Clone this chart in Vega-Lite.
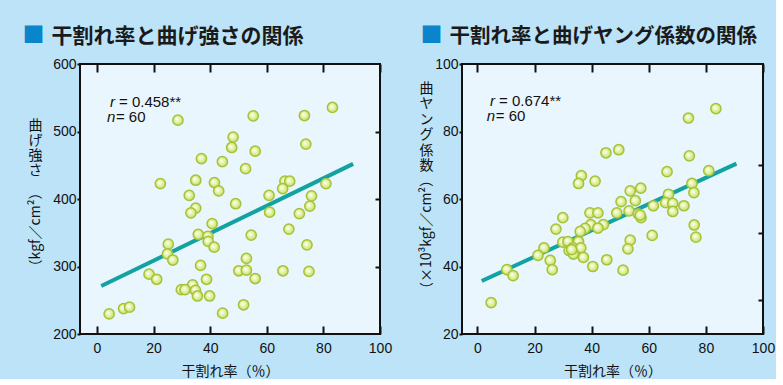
{
  "$schema": "https://vega.github.io/schema/vega-lite/v6.json",
  "background": "#bce3f8",
  "padding": {"left": 21, "top": 22, "right": 0, "bottom": 0},
  "spacing": 25,
  "config": {
    "view": {"fill": "#eaf6fd", "stroke": "#111111", "strokeWidth": 2},
    "axis": {
      "labelFont": "Liberation Sans", "labelFontSize": 14, "labelColor": "#111111", "labelFlush": false,
      "titleFont": "Noto Sans CJK JP", "titleFontWeight": "normal", "titleFontSize": 14, "titleColor": "#111111", "titleLimit": 1000,
      "domain": false, "grid": false, "tickColor": "#111111", "tickWidth": 2
    }
  },
  "datasets": {
    "strength": [
      {"rate": 28.6, "value": 516.8}, {"rate": 55.2, "value": 523.2}, {"rate": 73.3, "value": 523.7}, {"rate": 83.2, "value": 535.6},
      {"rate": 48.1, "value": 491.8}, {"rate": 47.6, "value": 476.3}, {"rate": 55.9, "value": 470.8}, {"rate": 73.8, "value": 481.3},
      {"rate": 36.9, "value": 459.9}, {"rate": 44.3, "value": 455.4}, {"rate": 52.5, "value": 444.9}, {"rate": 22.4, "value": 422.9},
      {"rate": 34.9, "value": 427.8}, {"rate": 41.5, "value": 424.4}, {"rate": 43.0, "value": 412.0}, {"rate": 32.6, "value": 405.4},
      {"rate": 66.4, "value": 426.4}, {"rate": 68.1, "value": 426.4}, {"rate": 65.6, "value": 415.4}, {"rate": 80.9, "value": 422.9},
      {"rate": 60.8, "value": 405.4}, {"rate": 75.8, "value": 404.5}, {"rate": 34.9, "value": 386.5}, {"rate": 33.2, "value": 379.5},
      {"rate": 49.0, "value": 393.0}, {"rate": 75.2, "value": 389.5}, {"rate": 61.0, "value": 380.5}, {"rate": 71.5, "value": 378.4},
      {"rate": 40.7, "value": 363.5}, {"rate": 67.8, "value": 355.5}, {"rate": 35.8, "value": 347.6}, {"rate": 39.2, "value": 344.6},
      {"rate": 39.3, "value": 337.1}, {"rate": 41.4, "value": 328.6}, {"rate": 54.5, "value": 346.6}, {"rate": 25.2, "value": 333.1},
      {"rate": 24.9, "value": 318.6}, {"rate": 26.8, "value": 309.6}, {"rate": 74.2, "value": 332.0}, {"rate": 36.6, "value": 301.6},
      {"rate": 52.8, "value": 312.1}, {"rate": 50.1, "value": 293.7}, {"rate": 52.8, "value": 294.6}, {"rate": 65.7, "value": 293.7},
      {"rate": 74.9, "value": 292.7}, {"rate": 18.4, "value": 288.6}, {"rate": 21.1, "value": 281.1}, {"rate": 38.7, "value": 281.1},
      {"rate": 55.9, "value": 282.2}, {"rate": 33.8, "value": 272.8}, {"rate": 29.8, "value": 265.7}, {"rate": 31.1, "value": 265.7},
      {"rate": 34.8, "value": 264.7}, {"rate": 35.5, "value": 256.3}, {"rate": 39.8, "value": 256.3}, {"rate": 51.8, "value": 243.3},
      {"rate": 4.3, "value": 229.8}, {"rate": 9.4, "value": 237.7}, {"rate": 11.5, "value": 239.8}, {"rate": 44.4, "value": 230.8}
    ],
    "modulus": [
      {"rate": 83.5, "value": 86.8}, {"rate": 73.9, "value": 84.0}, {"rate": 45.0, "value": 73.7}, {"rate": 49.5, "value": 74.6},
      {"rate": 74.2, "value": 72.8}, {"rate": 36.4, "value": 66.9}, {"rate": 35.4, "value": 64.6}, {"rate": 41.2, "value": 65.3},
      {"rate": 66.4, "value": 68.1}, {"rate": 81.0, "value": 68.4}, {"rate": 75.1, "value": 64.6}, {"rate": 75.8, "value": 61.9},
      {"rate": 53.5, "value": 62.4}, {"rate": 57.2, "value": 63.2}, {"rate": 66.9, "value": 61.4}, {"rate": 50.3, "value": 59.2},
      {"rate": 55.3, "value": 59.5}, {"rate": 65.9, "value": 58.9}, {"rate": 68.4, "value": 58.7}, {"rate": 61.6, "value": 58.0},
      {"rate": 72.3, "value": 58.0}, {"rate": 53.1, "value": 56.5}, {"rate": 68.4, "value": 56.3}, {"rate": 48.8, "value": 55.9},
      {"rate": 56.3, "value": 55.6}, {"rate": 57.3, "value": 54.5}, {"rate": 39.4, "value": 55.9}, {"rate": 42.2, "value": 55.9},
      {"rate": 29.9, "value": 54.5}, {"rate": 75.9, "value": 52.3}, {"rate": 39.7, "value": 52.4}, {"rate": 44.1, "value": 52.4},
      {"rate": 42.2, "value": 51.4}, {"rate": 37.7, "value": 51.3}, {"rate": 36.0, "value": 50.4}, {"rate": 27.5, "value": 51.1},
      {"rate": 76.5, "value": 48.7}, {"rate": 61.2, "value": 49.2}, {"rate": 53.5, "value": 47.8}, {"rate": 29.9, "value": 47.2},
      {"rate": 31.7, "value": 47.4}, {"rate": 35.4, "value": 47.4}, {"rate": 23.3, "value": 45.5}, {"rate": 32.1, "value": 44.7},
      {"rate": 33.4, "value": 45.5}, {"rate": 36.2, "value": 45.5}, {"rate": 33.6, "value": 43.7}, {"rate": 21.2, "value": 43.3},
      {"rate": 37.1, "value": 42.7}, {"rate": 52.7, "value": 45.2}, {"rate": 25.5, "value": 41.8}, {"rate": 45.3, "value": 42.0},
      {"rate": 40.4, "value": 40.0}, {"rate": 26.2, "value": 39.1}, {"rate": 51.0, "value": 38.9}, {"rate": 10.3, "value": 39.1},
      {"rate": 12.5, "value": 37.3}, {"rate": 4.8, "value": 29.3}, {"rate": 33.0, "value": 45.0}, {"rate": 57.0, "value": 55.2}
    ],
    "lineA": [{"rate": 1.5, "value": 271}, {"rate": 90.5, "value": 452}],
    "lineB": [{"rate": 1.5, "value": 35.7}, {"rate": 90.7, "value": 70.5}],
    "annoA": [{"rate": 4.6, "value": 537, "sym": "r", "rest": "= 0.458**"}, {"rate": 3.5, "value": 514.5, "sym": "n", "rest": "= 60"}],
    "annoB": [{"rate": 4.4, "value": 87.6, "sym": "r", "rest": "= 0.674**"}, {"rate": 3.3, "value": 83.2, "sym": "n", "rest": "= 60"}]
  },
  "hconcat": [
    {
      "width": 300, "height": 270,
      "resolve": {"axis": {"x": "independent", "y": "independent"}},
      "layer": [
        {
          "data": {"name": "lineA"},
          "mark": {"type": "line", "color": "#12a2a2", "strokeWidth": 4},
          "encoding": {
            "x": {"field": "rate", "type": "quantitative", "scale": {"domain": [-6, 100], "nice": false, "zero": false},
                  "axis": {"orient": "top", "values": [0, 20, 40, 60, 80, 100], "labels": false, "tickSize": -8,
                           "title": "干割れ率と曲げ強さの関係", "titleX": -29, "titleY": -22, "titleAlign": "left", "titleBaseline": "alphabetic",
                           "titleFontSize": 21, "titleFontWeight": "bold", "titleColor": "#1a1a1a"}},
            "y": {"field": "value", "type": "quantitative", "scale": {"domain": [200, 600], "nice": false, "zero": false},
                  "axis": {"orient": "right", "values": [300, 400, 500], "labels": false, "tickSize": -5, "title": null}}
          }
        },
        {
          "data": {"name": "strength"},
          "mark": {"type": "point", "shape": "circle", "size": 105, "filled": true, "opacity": 1, "stroke": "#a3c43a", "strokeWidth": 1.5,
                   "fill": {"gradient": "radial", "x1": 0.38, "y1": 0.38, "r1": 0, "x2": 0.5, "y2": 0.5, "r2": 0.55,
                            "stops": [{"offset": 0, "color": "#ffffff"}, {"offset": 0.3, "color": "#f0f8c6"}, {"offset": 1, "color": "#c3dd5a"}]}},
          "encoding": {
            "x": {"field": "rate", "type": "quantitative",
                  "axis": {"orient": "bottom", "values": [0, 20, 40, 60, 80, 100], "tickSize": -8, "labelPadding": 15, "title": "干割れ率（％）", "titlePadding": 9}},
            "y": {"field": "value", "type": "quantitative",
                  "axis": {"orient": "left", "values": [200, 300, 400, 500, 600], "tickSize": 3, "labelPadding": 1,
                           "title": ["曲", "げ", "強", "さ"], "titleAngle": 0, "titleX": -45, "titleY": 61, "titleLineHeight": 15, "titleAlign": "center", "titleBaseline": "middle"}}
          }
        },
        {
          "data": {"name": "annoA"},
          "mark": {"type": "text", "font": "Liberation Sans", "fontSize": 15, "fontStyle": "italic", "align": "left", "baseline": "alphabetic", "color": "#111111"},
          "encoding": {
            "x": {"field": "rate", "type": "quantitative",
                  "axis": {"orient": "top", "labels": false, "ticks": false, "domain": false,
                           "title": "■", "titleX": -58, "titleY": -23, "titleAlign": "left", "titleBaseline": "alphabetic",
                           "titleFontSize": 22, "titleColor": "#0a85cc"}},
            "y": {"field": "value", "type": "quantitative",
                  "axis": {"orient": "left", "labels": false, "ticks": false, "domain": false, "title": "（kgf／cm²）", "titleAngle": 270, "titleX": -45, "titleY": 165, "titleAlign": "center", "titleBaseline": "middle"}},
            "text": {"field": "sym"}
          }
        },
        {
          "data": {"name": "annoA"},
          "mark": {"type": "text", "font": "Liberation Sans", "fontSize": 15, "align": "left", "baseline": "alphabetic", "dx": 9, "color": "#111111"},
          "encoding": {
            "x": {"field": "rate", "type": "quantitative", "axis": null},
            "y": {"field": "value", "type": "quantitative", "axis": null},
            "text": {"field": "rest"}
          }
        }
      ]
    },
    {
      "width": 301, "height": 270,
      "resolve": {"axis": {"x": "independent", "y": "independent"}},
      "layer": [
        {
          "data": {"name": "lineB"},
          "mark": {"type": "line", "color": "#12a2a2", "strokeWidth": 4},
          "encoding": {
            "x": {"field": "rate", "type": "quantitative", "scale": {"domain": [-5.4, 100], "nice": false, "zero": false},
                  "axis": {"orient": "top", "values": [0, 20, 40, 60, 80, 100], "labels": false, "tickSize": -8,
                           "title": "干割れ率と曲げヤング係数の関係", "titleX": -13, "titleY": -22, "titleAlign": "left", "titleBaseline": "alphabetic",
                           "titleFontSize": 20.5, "titleFontWeight": "bold", "titleColor": "#1a1a1a"}},
            "y": {"field": "value", "type": "quantitative", "scale": {"domain": [20, 100], "nice": false, "zero": false},
                  "axis": {"orient": "right", "values": [30, 50, 70], "labels": false, "tickSize": -5, "title": null}}
          }
        },
        {
          "data": {"name": "modulus"},
          "mark": {"type": "point", "shape": "circle", "size": 105, "filled": true, "opacity": 1, "stroke": "#a3c43a", "strokeWidth": 1.5,
                   "fill": {"gradient": "radial", "x1": 0.38, "y1": 0.38, "r1": 0, "x2": 0.5, "y2": 0.5, "r2": 0.55,
                            "stops": [{"offset": 0, "color": "#ffffff"}, {"offset": 0.3, "color": "#f0f8c6"}, {"offset": 1, "color": "#c3dd5a"}]}},
          "encoding": {
            "x": {"field": "rate", "type": "quantitative",
                  "axis": {"orient": "bottom", "values": [0, 20, 40, 60, 80, 100], "tickSize": -8, "labelPadding": 15, "title": "干割れ率（％）", "titlePadding": 9}},
            "y": {"field": "value", "type": "quantitative",
                  "axis": {"orient": "left", "values": [20, 40, 60, 80, 100], "tickSize": 3, "labelPadding": 1,
                           "title": ["曲", "ヤ", "ン", "グ", "係", "数"], "titleAngle": 0, "titleX": -36, "titleY": 24, "titleLineHeight": 15.5, "titleAlign": "center", "titleBaseline": "middle"}}
          }
        },
        {
          "data": {"name": "annoB"},
          "mark": {"type": "text", "font": "Liberation Sans", "fontSize": 15, "fontStyle": "italic", "align": "left", "baseline": "alphabetic", "color": "#111111"},
          "encoding": {
            "x": {"field": "rate", "type": "quantitative",
                  "axis": {"orient": "top", "labels": false, "ticks": false, "domain": false,
                           "title": "■", "titleX": -42, "titleY": -23, "titleAlign": "left", "titleBaseline": "alphabetic",
                           "titleFontSize": 22, "titleColor": "#0a85cc"}},
            "y": {"field": "value", "type": "quantitative",
                  "axis": {"orient": "left", "labels": false, "ticks": false, "domain": false, "title": "（×10³kgf／cm²）", "titleAngle": 270, "titleX": -36, "titleY": 170, "titleAlign": "center", "titleBaseline": "middle"}},
            "text": {"field": "sym"}
          }
        },
        {
          "data": {"name": "annoB"},
          "mark": {"type": "text", "font": "Liberation Sans", "fontSize": 15, "align": "left", "baseline": "alphabetic", "dx": 9, "color": "#111111"},
          "encoding": {
            "x": {"field": "rate", "type": "quantitative", "axis": null},
            "y": {"field": "value", "type": "quantitative", "axis": null},
            "text": {"field": "rest"}
          }
        }
      ]
    }
  ]
}
